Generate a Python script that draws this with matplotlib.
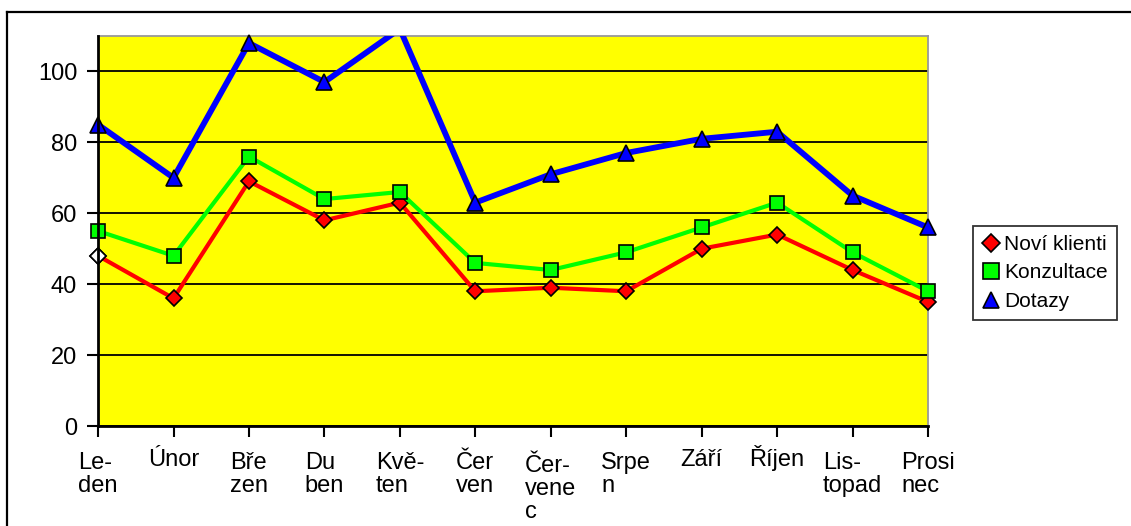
"""Mesicni prehled: novi klienti, konzultace, dotazy."""

import matplotlib
matplotlib.use('Agg')
import numpy as np
import matplotlib.pyplot as plt
import matplotlib.transforms as mtrans
from matplotlib.lines import Line2D

mesice = ['Le-\nden', 'Únor', 'Bře\nzen', 'Du\nben', 'Kvě-\nten', 'Čer\nven',
          'Čer-\nvene\nc', 'Srpe\nn', 'Září', 'Říjen', 'Lis-\ntopad', 'Prosi\nnec']
novi_klienti = [48, 36, 69, 58, 63, 38, 39, 38, 50, 54, 44, 35]
konzultace = [55, 48, 76, 64, 66, 46, 44, 49, 56, 63, 49, 38]
dotazy = [85, 70, 108, 97, 112, 63, 71, 77, 81, 83, 65, 56]

plt.rcParams['font.family'] = ['Liberation Sans', 'DejaVu Sans']
FONTSIZE = 17
YMAX = 110

fig = plt.figure(figsize=(11.31, 5.26), dpi=100)
ax = fig.add_axes([0.0867, 0.1901, 0.7338, 0.7415])
ax.set_facecolor('#ffff00')

x = np.arange(len(mesice))
serie = [
    (novi_klienti, '#ff0000', 3.0, 'D', 8, 3),
    (konzultace, '#00ff00', 3.0, 's', 10, 4),
    (dotazy, '#0000ff', 4.2, '^', 11, 5),
]
for vals, col, lw, mk, ms, z in serie:
    vals = np.array(vals, dtype=float)
    ax.plot(x, vals, '-', color=col, lw=lw, zorder=z)
    # markers are not clipped at the plot edges, except above the y range
    vis = np.ma.masked_greater(vals, YMAX)
    ax.plot(x, vis, ls='none', marker=mk, ms=ms, mfc=col, mec='black',
            mew=1.2, zorder=z, clip_on=False)

# first point of Novi klienti has a hollow marker
ax.plot(x[:1], novi_klienti[:1], 'D', ms=8, mfc='white', mec='black',
        mew=1.2, zorder=3, clip_on=False)

ax.set_xlim(0, len(mesice) - 1)
ax.set_ylim(0, YMAX)
ax.set_yticks(range(0, 101, 20))
ax.set_xticks(x)
ax.set_xticklabels([])
ax.tick_params(axis='both', labelsize=FONTSIZE, length=8, width=1.5,
               direction='out', color='black')
ax.tick_params(axis='y', pad=7)

# month labels: first lines share one baseline (accented capitals included)
for i, lab in enumerate(mesice):
    n = lab.count('\n')
    off = mtrans.ScaledTranslation(0, -(0.40 + 0.26 * n), fig.dpi_scale_trans)
    ax.text(x[i], 0, lab, transform=ax.get_xaxis_transform() + off,
            ha='center', va='baseline', multialignment='left',
            linespacing=1.05, fontsize=FONTSIZE, clip_on=False)

ax.yaxis.grid(True, color='black', lw=1.3)
ax.set_axisbelow(True)
for s in ['left', 'bottom']:
    ax.spines[s].set_linewidth(2)
    ax.spines[s].set_color('black')
    ax.spines[s].set_zorder(6)
for s in ['top', 'right']:
    ax.spines[s].set_linewidth(1.3)
    ax.spines[s].set_color('#999999')

handles = [
    Line2D([], [], ls='none', marker='D', ms=9, mfc='#ff0000', mec='black', mew=1.2),
    Line2D([], [], ls='none', marker='s', ms=11, mfc='#00ff00', mec='black', mew=1.2),
    Line2D([], [], ls='none', marker='^', ms=12, mfc='#0000ff', mec='black', mew=1.2),
]
leg = fig.legend(handles, ['Noví klienti', 'Konzultace', 'Dotazy'],
                 loc='center', bbox_to_anchor=(0.860, 0.386, 0.128, 0.19),
                 fontsize=15, frameon=True, fancybox=False, handlelength=0.8,
                 handletextpad=0.25, borderpad=0.45, labelspacing=0.45,
                 borderaxespad=0)
leg.get_frame().set_edgecolor('black')
leg.get_frame().set_linewidth(1.3)

# chart area border (only top and left edges fall inside the image)
fig.add_artist(Line2D([0.0062, 1.0], [0.977, 0.977], color='black', lw=1.6,
                      transform=fig.transFigure))
fig.add_artist(Line2D([0.0062, 0.0062], [0.977, 0.0], color='black', lw=1.6,
                      transform=fig.transFigure))

fig.savefig('out.png', dpi=100)
